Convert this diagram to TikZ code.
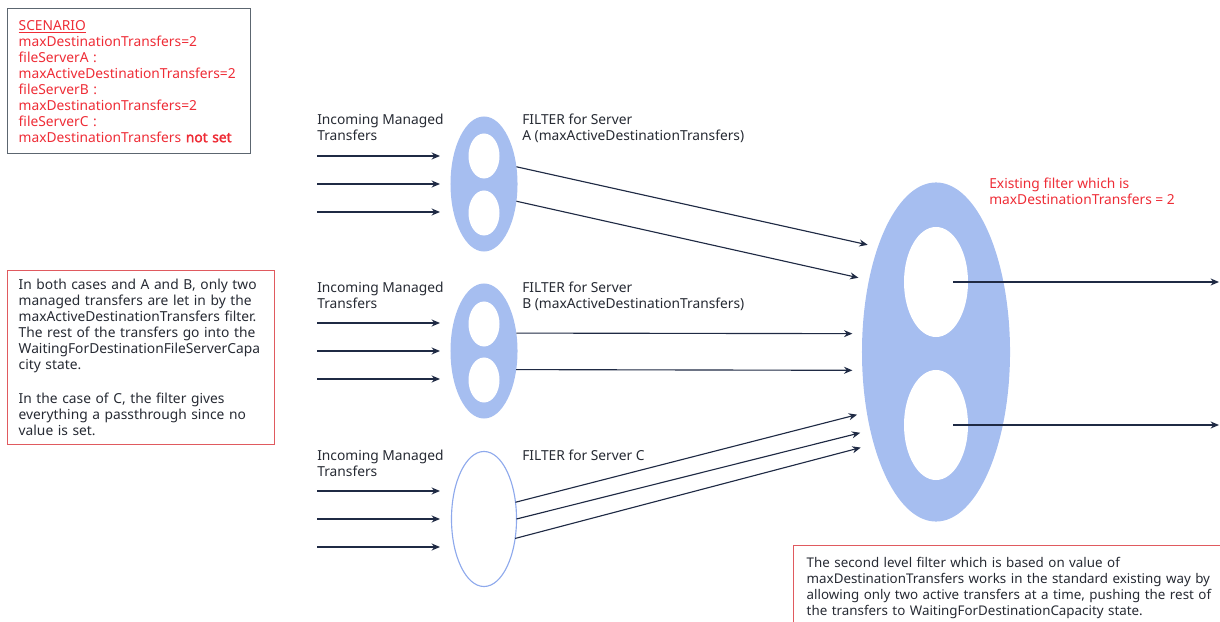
\documentclass[tikz,border=0pt]{standalone}
\usepackage{fontspec}
\setmainfont{Noto Sans}
\newfontfamily\notobold{Noto Sans}[FakeBold=2.2]
\usepackage{tikz}
\usetikzlibrary{shapes.geometric, arrows.meta}
\usepackage{xcolor}
\definecolor{ink}{HTML}{262A33}
\definecolor{flowline}{HTML}{1F2A44}
\definecolor{alert}{HTML}{EE2C36}
\definecolor{alertline}{HTML}{E05A5F}
\definecolor{slate}{HTML}{5C6670}
\definecolor{filterblue}{HTML}{A6BEF0}
\definecolor{ringblue}{HTML}{8EA9EC}

\begin{document}
\begin{tikzpicture}[x=0.025cm, y=-0.025cm, >={Stealth[length=6pt, width=5pt]},
  txt/.style={font=\fontsize{9.8pt}{11.38pt}\selectfont},
  lbl/.style={txt, anchor=north west, inner sep=0pt, align=left, text=ink},
  box/.style={txt, draw=#1, line width=1pt, anchor=north west, align=left, text=ink, inner xsep=0.275cm},
  box/.default=alertline,
  filter/.style={ellipse, fill=filterblue, inner sep=0pt, outer sep=0pt, minimum width=1.675cm, minimum height=3.375cm},
  hole/.style={ellipse, fill=white, inner sep=0pt, minimum width=0.775cm, minimum height=1.125cm},
  bigfilter/.style={filter, minimum width=3.7cm, minimum height=8.475cm},
  bighole/.style={hole, minimum width=1.6cm, minimum height=2.75cm},
  flow/.style={->, draw=flowline, line width=0.8pt}]
  \useasboundingbox (0,0) rectangle (1220,622);
  \clip (0,0) rectangle (1220,622);

  % scenario and notes
  \node[box=slate, text=alert, minimum width=6.075cm, minimum height=3.625cm, text width=5.525cm] (scenario) at (7,8)
    {\underline{SCENARIO}\\maxDestinationTransfers=2\\fileServerA :\\maxActiveDestinationTransfers=2\\fileServerB :\\maxDestinationTransfers=2\\fileServerC :\\maxDestinationTransfers {\notobold not set}};
  \node[box, minimum width=6.675cm, minimum height=4.35cm, text width=6.125cm] (cases) at (7,270)
    {In both cases and A and B, only two\\managed transfers are let in by the\\maxActiveDestinationTransfers filter.\\The rest of the transfers go into the\\WaitingForDestinationFileServerCapa\\city state.\\[0.45cm]In the case of C, the filter gives\\everything a passthrough since no\\value is set.};
  \node[box, font=\fontsize{9.5pt}{11.38pt}\selectfont, inner xsep=0.325cm, inner ysep=0.3cm, text width=10.5cm] (second) at (793,545)
    {The second level filter which is based on value of\\maxDestinationTransfers works in the standard existing way by\\allowing only two active transfers at a time, pushing the rest of\\the transfers to WaitingForDestinationCapacity state.};

  % first level filters
  \node[filter] (fa) at (484,184) {};
  \node[hole] (fa1) at (484,156) {};
  \node[hole] (fa2) at (484,213) {};
  \node[filter] (fb) at (484,351) {};
  \node[hole] (fb1) at (484,324) {};
  \node[hole] (fb2) at (484,380) {};
  \node[filter, fill=none, draw=ringblue, line width=0.8pt, minimum width=1.625cm] (fc) at (484,519) {};

  % second level filter
  \node[bigfilter] (dest) at (936,352) {};
  \node[bighole] (dest1) at (936,282) {};
  \node[bighole] (dest2) at (936,425) {};

  % labels
  \node[lbl] (inA) at (317,114) {Incoming Managed\\Transfers};
  \node[lbl] (inB) at (317,282) {Incoming Managed\\Transfers};
  \node[lbl] (inC) at (317,450) {Incoming Managed\\Transfers};
  \node[lbl] (fltA) at (522,114) {FILTER for Server\\A (maxActiveDestinationTransfers)};
  \node[lbl] (fltB) at (522,282) {FILTER for Server\\B (maxActiveDestinationTransfers)};
  \node[lbl] (fltC) at (522,450) {FILTER for Server C};
  \node[lbl, text=alert] (exist) at (989,178) {Existing filter which is\\maxDestinationTransfers = 2};

  % incoming transfers
  \foreach \g/\yc in {a/184, b/351, c/519}{
    \foreach \k/\dy in {1/-28, 2/0, 3/28}{
      \coordinate (\g in\k) at (317,\yc+\dy);
      \coordinate (\g tip\k) at (440,\yc+\dy);
      \draw[flow] (\g in\k) -- (\g tip\k);
    }
  }

  % into the second level filter
  \draw[flow, shorten >=0.26cm] (fa.28) -- (dest.119);
  \draw[flow, shorten >=0.27cm] (fa.-28) -- (dest.133);
  \draw[flow, shorten >=0.25cm] (fb.29) -- (dest.166);
  \draw[flow, shorten >=0.25cm] (fb.-30) -- (dest.194);
  \draw[flow, shorten >=0.25cm] (fc.28) -- (dest.221);
  \draw[flow, shorten >=0.26cm] (fc.0) -- (dest.230);
  \draw[flow, shorten >=0.34cm] (fc.-32) -- (dest.236);

  % out of the second level filter
  \coordinate (outA) at (1219,282);
  \coordinate (outB) at (1219,425);
  \draw[flow, shorten <=0.425cm] (dest1.center) -- (outA);
  \draw[flow, shorten <=0.425cm] (dest2.center) -- (outB);
\end{tikzpicture}
\end{document}
